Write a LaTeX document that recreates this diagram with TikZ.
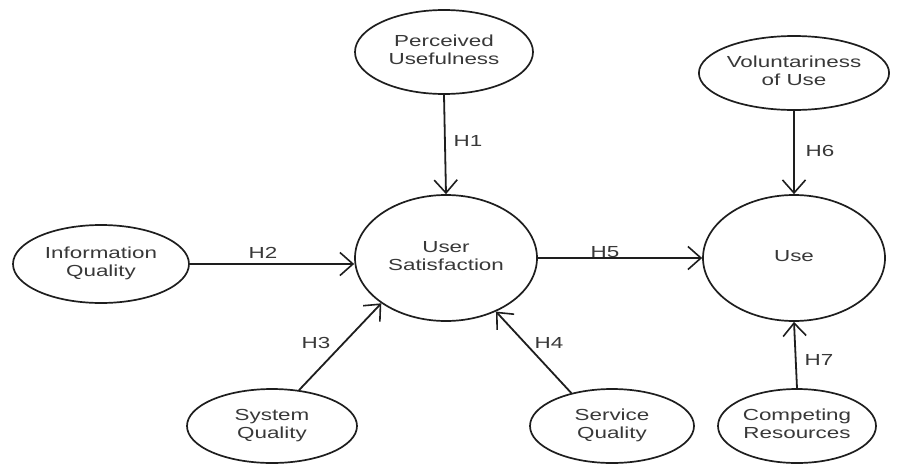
\documentclass[tikz,border=0pt]{standalone}
\usepackage{fontspec}
\setmainfont{Liberation Sans}
\usetikzlibrary{shapes.geometric,arrows.meta}
\definecolor{txt}{HTML}{383838}
\definecolor{ln}{HTML}{1E1E1E}
\newcommand{\wtxt}[1]{\scalebox{1.4}[1]{\begin{tabular}{@{}c@{}}#1\end{tabular}}}
\begin{document}
\begin{tikzpicture}[x=1pt,y=-1pt,
  cons/.style={draw=ln, line width=1.7pt, ellipse, inner sep=0pt,
    font=\fontsize{16}{18}\selectfont, text=txt},
  link/.style={draw=ln, line width=1.8pt,
    -{Straight Barb[length=13pt,width=23pt,line width=1.6pt]}},
  hlab/.style={font=\fontsize{16}{18}\selectfont, text=txt, inner sep=0pt}]
\useasboundingbox[fill=white] (0,0) rectangle (902,464);

\node[cons, minimum width=178pt, minimum height=84pt] (pu) at (444,52) {\wtxt{Perceived\\Usefulness}};
\node[cons, minimum width=182pt, minimum height=74pt] (vu) at (794,73) {\wtxt{Voluntariness\\of Use}};
\node[cons, minimum width=176pt, minimum height=78pt] (iq) at (101,264) {\wtxt{Information\\Quality}};
\node[cons, minimum width=182pt, minimum height=126pt] (us) at (446,258) {\wtxt{User\\Satisfaction}};
\node[cons, minimum width=182pt, minimum height=126pt] (use) at (794,258) {\wtxt{Use}};
\node[cons, minimum width=170pt, minimum height=74pt] (sq) at (272,426) {\wtxt{System\\Quality}};
\node[cons, minimum width=164pt, minimum height=74pt] (svq) at (612,426) {\wtxt{Service\\Quality}};
\node[cons, minimum width=158pt, minimum height=74pt] (cr) at (797,426) {\wtxt{Competing\\Resources}};

\draw[link] (pu.south) -- (us.north);
\draw[link] (vu.south) -- (use.north);
\draw[link] (iq.east) -- (us.west |- iq.east);
\draw[link] (us.east) -- (use.west);
\draw[link] (sq.53) -- (us.215);
\draw[link] (svq.141) -- (us.313);
\draw[link] (cr.north) -- (use.south);

\node[hlab] (h1) at (468,143) {\wtxt{H1}};
\node[hlab] (h2) at (263,255) {\wtxt{H2}};
\node[hlab] (h3) at (316,345) {\wtxt{H3}};
\node[hlab] (h4) at (549,345) {\wtxt{H4}};
\node[hlab] (h5) at (605,254) {\wtxt{H5}};
\node[hlab] (h6) at (820,153) {\wtxt{H6}};
\node[hlab] (h7) at (819,362) {\wtxt{H7}};
\end{tikzpicture}
\end{document}
